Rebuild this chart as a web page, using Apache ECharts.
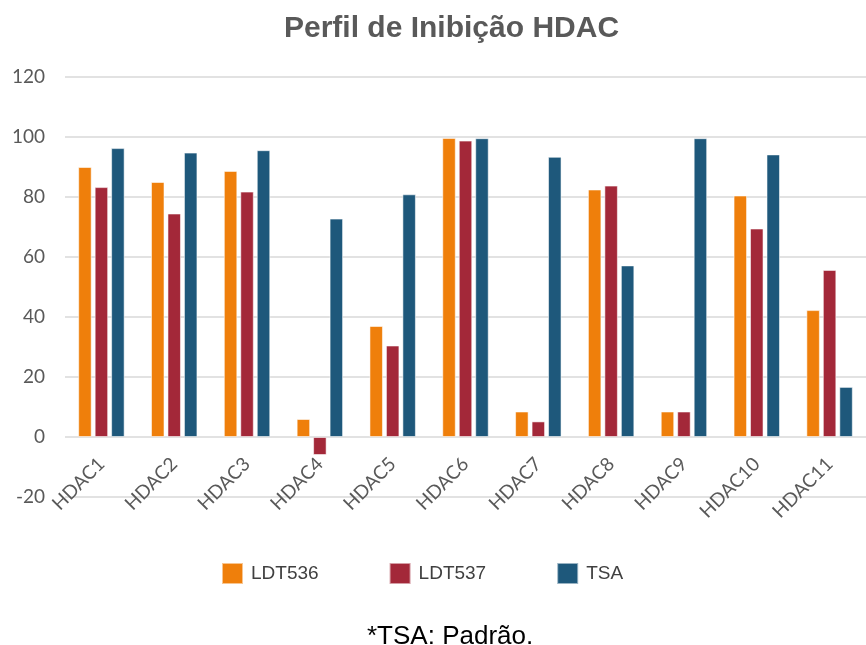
<!DOCTYPE html>
<html>
<head>
<meta charset="utf-8">
<title>Perfil de Inibição HDAC</title>
<script src="https://cdn.jsdelivr.net/npm/echarts@6/dist/echarts.min.js"></script>
<style>
  html, body { margin: 0; padding: 0; background: #fff; }
  #chart { width: 866px; height: 645px; }
</style>
</head>
<body>
<div id="chart"></div>
<script>
// Isoformas de HDAC avaliadas
const categories = ['HDAC1', 'HDAC2', 'HDAC3', 'HDAC4', 'HDAC5', 'HDAC6', 'HDAC7', 'HDAC8', 'HDAC9', 'HDAC10', 'HDAC11'];

// % de inibição por composto
const ldt536 = [90, 85, 88.7, 6, 37, 99.7, 8.5, 82.5, 8.5, 80.5, 42.3];
const ldt537 = [83.3, 74.5, 81.8, -6, 30.5, 98.8, 5.2, 83.8, 8.5, 69.5, 55.7];
const tsa = [96.3, 94.8, 95.6, 72.8, 80.9, 99.6, 93.4, 57.2, 99.6, 94.2, 16.7];

const seriesNames = ['LDT536', 'LDT537', 'TSA'];
const yTicks = { min: -20, max: 120, interval: 20 };

const colors = ['#EF7F0B', '#A32839', '#1E587B'];
const labelFont = 'Lato, "Open Sans", sans-serif';
const arialFont = '"Liberation Sans", Arial, sans-serif';

const chart = echarts.init(document.getElementById('chart'), null, { renderer: 'canvas' });

function barSeries(name, data, color) {
  return {
    name: name,
    type: 'bar',
    data: data,
    barWidth: 13.5,
    barGap: '22%',
    itemStyle: {
      color: color,
      borderColor: 'rgba(255,255,255,0.55)',
      borderWidth: 1
    }
  };
}

chart.setOption({
  animation: false,
  backgroundColor: '#ffffff',
  title: [
    {
      text: 'Perfil de Inibição HDAC',
      left: 279,
      top: 9,
      textStyle: { fontFamily: arialFont, fontSize: 30, fontWeight: 'bold', color: '#595959' }
    },
    {
      text: '*TSA: Padrão.',
      left: 362,
      top: 619,
      textStyle: { fontFamily: arialFont, fontSize: 26, fontWeight: 'normal', color: '#000000' }
    }
  ],
  legend: {
    data: seriesNames,
    left: 216,
    top: 557,
    icon: 'rect',
    itemWidth: 21,
    itemHeight: 21,
    itemGap: 70,
    textStyle: { fontFamily: arialFont, fontSize: 19, color: '#404040', padding: [0, 0, 0, 3] }
  },
  grid: { left: 65, right: -14, top: 77, bottom: 148, containLabel: false },
  xAxis: {
    type: 'category',
    data: categories,
    axisLine: { show: false, onZero: true },
    axisTick: { show: false },
    axisLabel: {
      rotate: 45,
      // labels sit just under the zero line rather than the bottom of the grid
      margin: -36,
      fontFamily: labelFont,
      fontSize: 19,
      color: '#595959',
      interval: 0
    },
    splitLine: { show: false }
  },
  yAxis: {
    type: 'value',
    min: yTicks.min,
    max: yTicks.max,
    interval: yTicks.interval,
    axisLine: { show: false },
    axisTick: { show: false },
    axisLabel: { margin: 20, fontFamily: labelFont, fontSize: 19, color: '#595959' },
    splitLine: { lineStyle: { color: '#d9d9d9', width: 1.5 } }
  },
  series: [
    barSeries(seriesNames[0], ldt536, colors[0]),
    barSeries(seriesNames[1], ldt537, colors[1]),
    barSeries(seriesNames[2], tsa, colors[2])
  ]
});
</script>
</body>
</html>
